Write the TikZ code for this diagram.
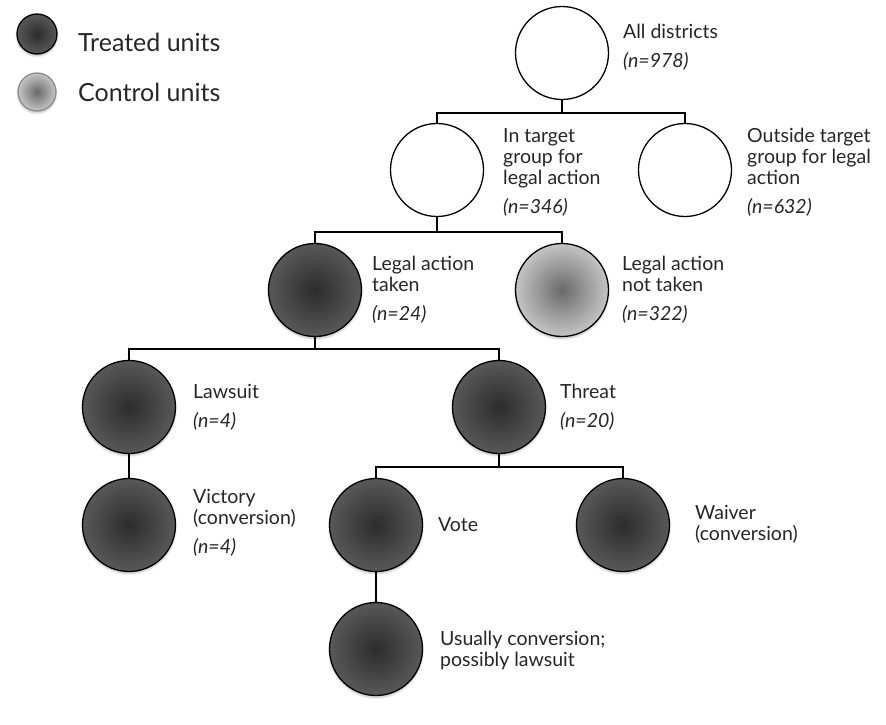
\documentclass[tikz,border=0pt]{standalone}
\usepackage{fontspec}
\setmainfont{Lato}
\usepackage{xcolor}
\usepackage{tikz}
\usetikzlibrary{positioning}
\usetikzlibrary{shadows.blur}
\pgfdeclarelayer{nodelayer}
\pgfdeclarelayer{edgelayer}
\pgfsetlayers{nodelayer,edgelayer,main}
\definecolor{treatin}{HTML}{2C2C2C}
\definecolor{treatout}{HTML}{585858}
\definecolor{controlin}{HTML}{6A6A6A}
\definecolor{controlout}{HTML}{C4C4C4}
\tikzset{
    none/.style = {inner sep=0pt},
    unit/.style = {circle, draw, line width=1.3pt, minimum size=93pt, inner sep=0pt},
    empty unit/.style = {unit, fill=white},
    treated/.style = {unit, shading=radial, inner color=treatin, outer color=treatout,
        blur shadow={shadow xshift=0pt, shadow yshift=-2pt, shadow opacity=25, shadow blur steps=6}},
    control/.style = {treated, inner color=controlin, outer color=controlout},
    label text/.style = {anchor=west, align=left, inner sep=0pt, text=black!85,
        font=\fontsize{19.5}{21}\selectfont},
    legend text/.style = {anchor=west, inner sep=0pt, text=black!85,
        font=\fontsize{25}{28}\selectfont},
    branch/.style = {line width=1.8pt}
}

\begin{document}
\begin{tikzpicture}[x=1pt, y=-1pt]
  \useasboundingbox (0, 0) rectangle (886, 725);
  \begin{pgfonlayer}{nodelayer}
    % legend
    \node [style=treated, minimum size=40pt] (0) at (37, 34) {};
    \node [style=control, minimum size=38pt, draw=black!45] (1) at (37, 92) {};
    \node [style=legend text] (13) at (78, 42) {Treated units};
    \node [style=legend text] (14) at (78, 92) {Control units};
    % tree
    \node [style=empty unit] (2) at (562, 53) {};
    \node [style=empty unit] (3) at (437, 170) {};
    \node [style=empty unit] (4) at (685, 170) {};
    \node [style=treated] (5) at (315, 290) {};
    \node [style=control] (6) at (562, 290) {};
    \node [style=treated] (7) at (129, 407) {};
    \node [style=treated] (8) at (499, 407) {};
    \node [style=treated] (9) at (129, 525) {};
    \node [style=treated] (10) at (376, 525) {};
    \node [style=treated] (11) at (623, 525) {};
    \node [style=treated] (12) at (376, 649) {};
    % labels
    \node [style=label text] (40) at (623, 47) {All districts\\[8pt]\textit{(n=978)}};
    \node [style=label text] (41) at (503, 172) {In target\\group for\\legal action\\[8pt]\textit{(n=346)}};
    \node [style=label text] (42) at (747, 172) {Outside target\\group for legal\\action\\[8pt]\textit{(n=632)}};
    \node [style=label text] (43) at (372, 290) {Legal action\\taken\\[8pt]\textit{(n=24)}};
    \node [style=label text] (44) at (622, 290) {Legal action\\not taken\\[8pt]\textit{(n=322)}};
    \node [style=label text] (45) at (193, 407) {Lawsuit\\[8pt]\textit{(n=4)}};
    \node [style=label text] (46) at (560, 407) {Threat\\[8pt]\textit{(n=20)}};
    \node [style=label text] (47) at (193, 523) {Victory\\(conversion)\\[8pt]\textit{(n=4)}};
    \node [style=label text] (48) at (438, 525) {Vote};
    \node [style=label text] (49) at (695, 524) {Waiver\\(conversion)};
    \node [style=label text] (50) at (440, 650) {Usually conversion;\\possibly lawsuit};
    % junctions
    \node [style=none] (20) at (562, 113) {};
    \node [style=none] (21) at (437, 113) {};
    \node [style=none] (22) at (685, 113) {};
    \node [style=none] (23) at (437, 232) {};
    \node [style=none] (24) at (315, 232) {};
    \node [style=none] (25) at (562, 232) {};
    \node [style=none] (26) at (315, 349) {};
    \node [style=none] (27) at (129, 349) {};
    \node [style=none] (28) at (499, 349) {};
    \node [style=none] (29) at (499, 467) {};
    \node [style=none] (30) at (376, 467) {};
    \node [style=none] (31) at (623, 467) {};
  \end{pgfonlayer}
  \begin{pgfonlayer}{edgelayer}
    \draw [style=branch] (2.south) to (20.center);
    \draw [style=branch] (3.north) -- (21.center) -- (22.center) -- (4.north);
    \draw [style=branch] (3.south) to (23.center);
    \draw [style=branch] (5.north) -- (24.center) -- (25.center) -- (6.north);
    \draw [style=branch] (5.south) to (26.center);
    \draw [style=branch] (7.north) -- (27.center) -- (28.center) -- (8.north);
    \draw [style=branch] (7.south) to (9.north);
    \draw [style=branch] (8.south) to (29.center);
    \draw [style=branch] (10.north) -- (30.center) -- (31.center) -- (11.north);
    \draw [style=branch] (10.south) to (12.north);
  \end{pgfonlayer}
\end{tikzpicture}
\end{document}
